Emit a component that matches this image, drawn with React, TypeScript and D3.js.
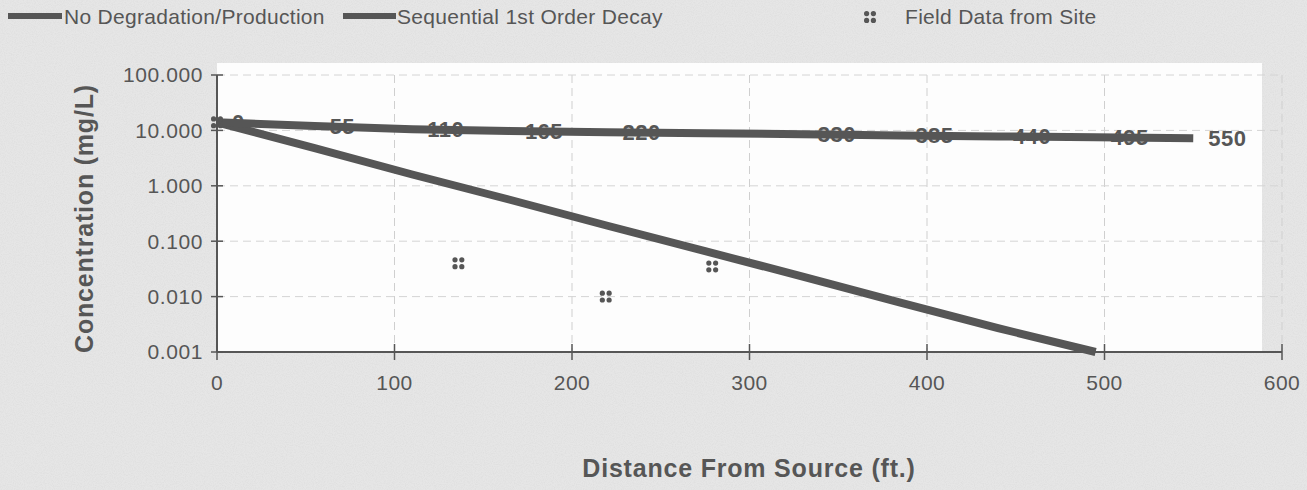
import React from "react";
import * as d3 from "d3";

const distances = [0, 55, 110, 165, 220, 275, 330, 385, 440, 495, 550];
const noDegradation = [14, 12, 10.5, 9.8, 9.3, 8.9, 8.5, 8.1, 7.8, 7.5, 7.2];
const noDegLabels = ["0", "55", "110", "165", "220", "", "330", "385", "440", "495", "550"];
const decayDistances = [0, 55, 110, 165, 220, 275, 330, 385, 440, 495];
const sequentialDecay = [14, 4.8, 1.6, 0.56, 0.19, 0.066, 0.023, 0.0078, 0.0027, 0.0009];
const fieldX = [0, 136, 219, 279];
const fieldY = [14, 0.04, 0.01, 0.035];
const xTicks = [0, 100, 200, 300, 400, 500, 600];
const yTicks = [100, 10, 1, 0.1, 0.01, 0.001];
const yTickLabels = ["100.000", "10.000", "1.000", "0.100", "0.010", "0.001"];

const W = 1307, H = 490;
const left = 217, right = 1282, top = 75, bottom = 352;
const ink = "#565656";
const font = "'Liberation Sans', Arial, sans-serif";

function Marker({ x, y }: { x: number; y: number }) {
  const o = 3.4, r = 2.6;
  return (
    <g fill={ink}>
      <circle cx={x - o} cy={y - o} r={r} />
      <circle cx={x + o} cy={y - o} r={r} />
      <circle cx={x - o} cy={y + o} r={r} />
      <circle cx={x + o} cy={y + o} r={r} />
    </g>
  );
}

export default function App() {
  const x = d3.scaleLinear().domain([0, 600]).range([left, right]);
  const y = d3.scaleLog().domain([0.001, 100]).range([bottom, top]).clamp(true);
  const line = d3.line<[number, number]>().x(d => x(d[0])).y(d => y(d[1]));
  const flatPts: [number, number][] = distances.map((d, i) => [d, noDegradation[i]]);
  const decayPts: [number, number][] = decayDistances.map((d, i) => [d, sequentialDecay[i]]);

  return (
    <svg width={W} height={H} style={{ position: "absolute", left: 0, top: 0 }} fontFamily={font}>
      <defs>
        <filter id="noise" x="0" y="0" width="100%" height="100%">
          <feTurbulence type="fractalNoise" baseFrequency="0.9" numOctaves="2" seed="3" result="t" />
          <feColorMatrix type="matrix" values="0 0 0 0 0.55  0 0 0 0 0.55  0 0 0 0 0.55  0 0 0 -1.2 0.75" />
        </filter>
      </defs>
      <rect width={W} height={H} fill="#e6e6e6" />
      <rect width={W} height={H} filter="url(#noise)" opacity={0.35} />
      <rect x={left} y={top - 12} width={right - left - 20} height={bottom - top + 12} fill="#fdfdfd" />

      {/* gridlines */}
      {xTicks.slice(1).map(t => (
        <line key={"gx" + t} x1={x(t)} x2={x(t)} y1={top} y2={bottom} stroke="#cfcfcf" strokeDasharray="8,5" />
      ))}
      {yTicks.slice(0, -1).map(t => (
        <line key={"gy" + t} x1={left} x2={right} y1={y(t)} y2={y(t)} stroke="#d4d4d4" strokeDasharray="8,5" />
      ))}

      {/* axes */}
      <line x1={left} x2={left} y1={top} y2={bottom} stroke={ink} strokeWidth={2} />
      <line x1={left} x2={right} y1={bottom} y2={bottom} stroke={ink} strokeWidth={2} />
      {yTicks.map(t => (
        <line key={"ty" + t} x1={left - 6} x2={left + 6} y1={y(t)} y2={y(t)} stroke={ink} strokeWidth={1.5} />
      ))}
      {xTicks.map(t => (
        <line key={"tx" + t} x1={x(t)} x2={x(t)} y1={bottom - 8} y2={bottom + 8} stroke={ink} strokeWidth={1.5} />
      ))}
      {yTicks.map((t, i) => (
        <text key={"ly" + t} x={left - 14} y={y(t)} dy="0.35em" textAnchor="end" fontSize={21} letterSpacing={0.6} fill={ink}>
          {yTickLabels[i]}
        </text>
      ))}
      {xTicks.map(t => (
        <text key={"lx" + t} x={x(t)} y={bottom + 38} textAnchor="middle" fontSize={21} letterSpacing={0.5} fill={ink}>
          {t}
        </text>
      ))}

      {/* series */}
      <path d={line(decayPts) || ""} fill="none" stroke={ink} strokeWidth={8} />
      <path d={line(flatPts) || ""} fill="none" stroke={ink} strokeWidth={8} />
      {flatPts.map((p, i) => (
        <text key={"dl" + i} x={x(p[0]) + 15} y={y(p[1])} dy="0.36em" fontSize={22} letterSpacing={0.5} fontWeight="bold" fill={ink}>
          {noDegLabels[i]}
        </text>
      ))}
      {fieldX.map((fx, i) => (
        <Marker key={"f" + i} x={x(fx)} y={y(fieldY[i])} />
      ))}

      {/* axis titles */}
      <text x={749} y={477} textAnchor="middle" fontSize={25} letterSpacing={0.8} fontWeight="bold" fill={ink}>
        Distance From Source (ft.)
      </text>
      <text transform={`translate(93,${(top + bottom) / 2 + 5}) rotate(-90)`} textAnchor="middle" fontSize={25} letterSpacing={0.8} fontWeight="bold" fill={ink}>
        Concentration (mg/L)
      </text>

      {/* legend */}
      <line x1={8} x2={62} y1={16} y2={16} stroke={ink} strokeWidth={6} />
      <text x={64} y={17} dy="0.35em" fontSize={21} letterSpacing={0.3} fill={ink}>No Degradation/Production</text>
      <line x1={343} x2={396} y1={16} y2={16} stroke={ink} strokeWidth={6} />
      <text x={397} y={17} dy="0.35em" fontSize={21} letterSpacing={0.3} fill={ink}>Sequential 1st Order Decay</text>
      <Marker x={870} y={17} />
      <text x={905} y={17} dy="0.35em" fontSize={21} letterSpacing={0.3} fill={ink}>Field Data from Site</text>
    </svg>
  );
}
